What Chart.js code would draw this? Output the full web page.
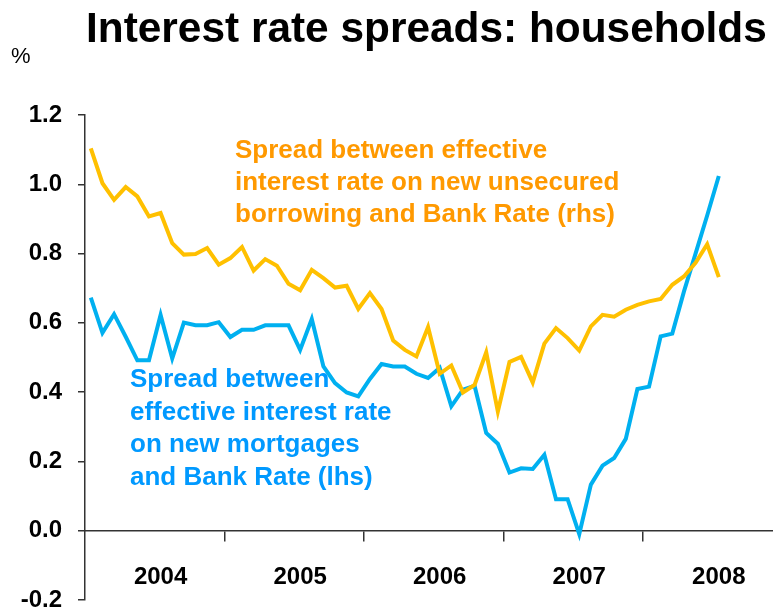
<!DOCTYPE html>
<html>
<head>
<meta charset="utf-8">
<script src="https://cdn.jsdelivr.net/npm/chart.js@4"></script>
<style>
  html, body { margin: 0; padding: 0; background: #fff; }
  canvas { display: block; }
</style>
</head>
<body>
<canvas id="spreadChart" width="773" height="613"></canvas>
<script>
// monthly observations, Jan 2004 - Jul 2008
const years = ["2004", "2005", "2006", "2007", "2008"];

const mortgageSpread = [
  0.673, 0.571, 0.625, 0.560, 0.492, 0.492, 0.623, 0.497, 0.601, 0.593,
  0.593, 0.602, 0.559, 0.580, 0.580, 0.593, 0.593, 0.593, 0.522, 0.611,
  0.474, 0.426, 0.399, 0.388, 0.438, 0.481, 0.474, 0.474, 0.453, 0.441,
  0.470, 0.359, 0.407, 0.418, 0.282, 0.251, 0.168, 0.180, 0.178, 0.219,
  0.091, 0.091, -0.010, 0.133, 0.188, 0.210, 0.265, 0.409, 0.416, 0.561,
  0.569, 0.690, 0.800, 0.910, 1.024
];

const unsecuredSpread = [
  1.104, 1.003, 0.955, 0.992, 0.965, 0.907, 0.917, 0.830, 0.797, 0.799,
  0.816, 0.768, 0.787, 0.819, 0.751, 0.784, 0.765, 0.713, 0.694, 0.753,
  0.729, 0.702, 0.707, 0.640, 0.686, 0.640, 0.549, 0.522, 0.503, 0.588,
  0.453, 0.477, 0.399, 0.421, 0.515, 0.344, 0.487, 0.502, 0.428, 0.540,
  0.585, 0.556, 0.520, 0.590, 0.623, 0.618, 0.638, 0.652, 0.662, 0.669,
  0.710, 0.734, 0.773, 0.827, 0.732
];

const yMin = -0.2;
const yMax = 1.2;

const title = "Interest rate spreads: households";
const unsecuredLabel = ["Spread between effective", "interest rate on new unsecured", "borrowing and Bank Rate (rhs)"];
const mortgageLabel = ["Spread between", "effective interest rate", "on new mortgages", "and Bank Rate (lhs)"];

const ORANGE_LINE = "#FFC000";
const BLUE_LINE = "#00B0F0";
const ORANGE_TEXT = "#FF9900";
const BLUE_TEXT = "#0099FF";
const AXIS = "#333333";
const FONT = "'Liberation Sans', Arial, sans-serif";

const toPoints = arr => arr.map((v, i) => ({ x: i, y: v }));

// year boundaries sit half a month before each January
const yearBounds = years.slice(1).map((y, k) => 12 * (k + 1) - 0.5);

const textPlugin = {
  id: "chartText",
  beforeDatasetsDraw(chart) {
    const ctx = chart.ctx;
    const xs = chart.scales.x;
    const ys = chart.scales.y;
    ctx.save();

    ctx.fillStyle = "#000";
    ctx.textBaseline = "alphabetic";
    ctx.textAlign = "left";
    ctx.font = "bold 42.4px " + FONT;
    ctx.fillText(title, 86, 42);

    ctx.font = "22px " + FONT;
    ctx.fillText("%", 11, 63);

    // year labels under the zero line
    ctx.font = "bold 24px " + FONT;
    ctx.textAlign = "center";
    ctx.textBaseline = "middle";
    years.forEach((y, k) => {
      ctx.fillText(y, xs.getPixelForValue(12 * k + 6), ys.getPixelForValue(0) + 47);
    });

    ctx.textAlign = "left";
    ctx.textBaseline = "alphabetic";
    ctx.font = "bold 26px " + FONT;
    ctx.fillStyle = ORANGE_TEXT;
    unsecuredLabel.forEach((line, k) => ctx.fillText(line, 235, 158 + k * 31.8));
    ctx.fillStyle = BLUE_TEXT;
    mortgageLabel.forEach((line, k) => ctx.fillText(line, 130, 387 + k * 32.6));

    ctx.restore();
  }
};

new Chart(document.getElementById("spreadChart"), {
  type: "line",
  data: {
    datasets: [
      {
        label: "Unsecured borrowing spread (rhs)",
        data: toPoints(unsecuredSpread),
        borderColor: ORANGE_LINE,
        borderWidth: 4,
        pointRadius: 0,
        tension: 0,
        yAxisID: "y2"
      },
      {
        label: "Mortgage spread (lhs)",
        data: toPoints(mortgageSpread),
        borderColor: BLUE_LINE,
        borderWidth: 4,
        pointRadius: 0,
        tension: 0,
        yAxisID: "y"
      }
    ]
  },
  options: {
    responsive: false,
    animation: false,
    layout: { padding: { top: 115, bottom: 13, left: 0, right: 0 } },
    plugins: {
      legend: { display: false },
      tooltip: { enabled: false }
    },
    scales: {
      x: {
        type: "linear",
        position: { y: 0 },
        min: -0.5,
        max: 58.66,
        afterFit: scale => {
          scale.height = 0;
          scale.paddingLeft = 0;
          scale.paddingRight = 0;
        },
        afterBuildTicks: axis => { axis.ticks = yearBounds.map(v => ({ value: v })); },
        ticks: { display: false },
        grid: {
          drawOnChartArea: false,
          drawTicks: true,
          tickLength: 10,
          color: AXIS,
          lineWidth: 1.5
        },
        border: { display: true, color: AXIS, width: 1.5 }
      },
      y: {
        position: "left",
        min: yMin,
        max: yMax,
        afterFit: scale => {
          scale.width = 85;
          scale.paddingTop = 0;
          scale.paddingBottom = 0;
        },
        ticks: {
          stepSize: 0.2,
          padding: 16,
          color: "#000",
          font: { family: FONT, size: 24, weight: "bold" },
          callback: v => (Math.abs(v) < 1e-9 ? 0 : v).toFixed(1)
        },
        grid: {
          drawOnChartArea: false,
          drawTicks: true,
          tickLength: 7,
          color: AXIS,
          lineWidth: 1.5
        },
        border: { display: true, color: AXIS, width: 1.5 }
      },
      y2: {
        position: "right",
        display: false,
        min: yMin,
        max: yMax
      }
    }
  },
  plugins: [textPlugin]
});
</script>
</body>
</html>
